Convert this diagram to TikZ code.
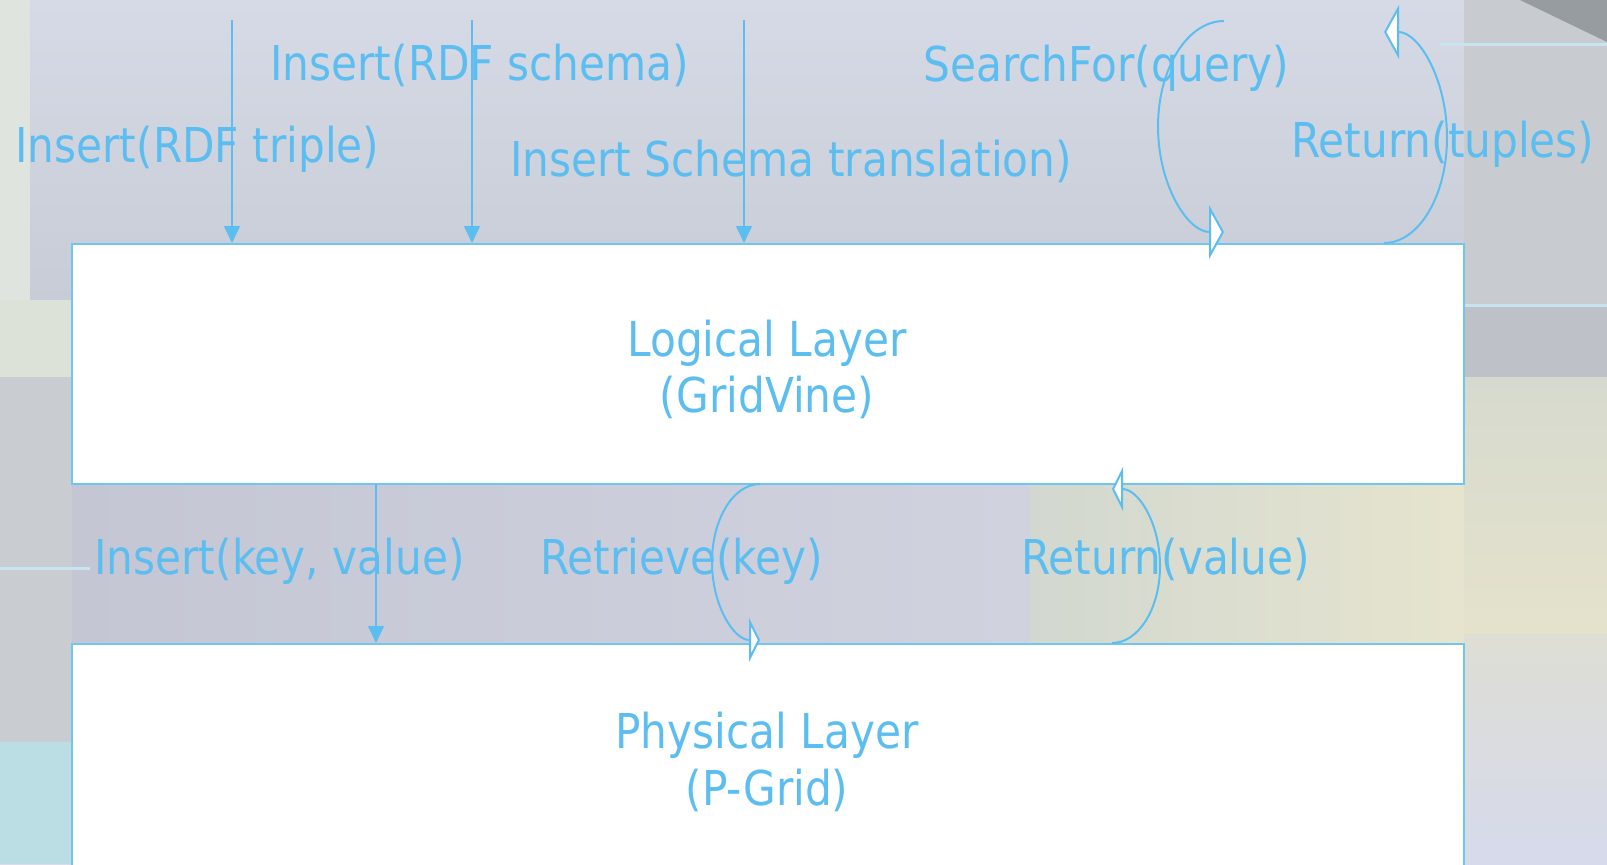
\documentclass[tikz,border=0pt]{standalone}
\usepackage{fontspec}
\setmainfont{DejaVu Sans}[FakeStretch=0.88]
\usetikzlibrary{arrows.meta}
\definecolor{lblue}{RGB}{92,190,240}
\definecolor{bblue}{RGB}{112,198,240}
\definecolor{bgL}{RGB}{218,220,234}
\definecolor{bgR}{RGB}{204,208,214}
\definecolor{bgTopT}{RGB}{214,218,230}
\definecolor{bgTopB}{RGB}{200,204,214}
\definecolor{bgGreen}{RGB}{223,229,222}
\definecolor{bgGreenB}{RGB}{220,226,216}
\definecolor{bgGray}{RGB}{201,205,210}
\definecolor{bgCyan}{RGB}{186,222,228}
\definecolor{bgMidL}{RGB}{196,198,212}
\definecolor{bgMidR}{RGB}{208,211,222}
\definecolor{bgMidGL}{RGB}{210,216,208}
\definecolor{bgMidGR}{RGB}{230,228,206}
\definecolor{bgRtop}{RGB}{200,204,208}
\definecolor{bgRgray}{RGB}{190,194,200}
\definecolor{bgRcreamT}{RGB}{214,218,206}
\definecolor{bgRcreamB}{RGB}{229,226,204}
\definecolor{bgRlowT}{RGB}{222,222,212}
\definecolor{bgRlowB}{RGB}{214,218,236}
\definecolor{bgCorner}{RGB}{150,156,160}
\definecolor{bgLine}{RGB}{200,228,238}
\begin{document}
\begin{tikzpicture}[x=0.5pt,y=-0.5pt,
  lbl/.style={text=lblue, font=\fontsize{24}{28}\selectfont, inner sep=0pt},
  layerbox/.style={draw=bblue, line width=1pt, fill=white, minimum width=696pt, inner sep=0pt},
  callarrow/.style={draw=lblue, line width=0.75pt, -{Triangle[length=8.5pt,width=8pt]}},
  loopbig/.style={draw=lblue, line width=1pt, -{Triangle[length=7.5pt,width=27pt,fill=white]}},
  loopsmall/.style={draw=lblue, line width=1pt, -{Triangle[length=5.5pt,width=22pt,fill=white]}},
  bgline/.style={draw=bgLine, line width=1.5pt}]
\useasboundingbox (0,0) rectangle (1607,864);
\clip (0,0) rectangle (1607,864);
% ---- background ----
\shade[left color=bgL, right color=bgR] (0,0) rectangle (1607,864);
\shade[top color=bgTopT, bottom color=bgTopB] (30,0) rectangle (1464,300);
\fill[bgGreen] (0,0) rectangle (30,377);
\fill[bgGreenB] (0,300) rectangle (72,377);
\fill[bgGray] (0,377) rectangle (72,742);
\fill[bgCyan] (0,742) rectangle (72,864);
\shade[left color=bgMidL, right color=bgMidR] (72,484) rectangle (1030,644);
\shade[left color=bgMidGL, right color=bgMidGR] (1030,484) rectangle (1464,644);
\fill[bgRtop] (1464,0) rectangle (1607,305);
\fill[bgRgray] (1464,305) rectangle (1607,377);
\shade[top color=bgRcreamT, bottom color=bgRcreamB] (1464,377) rectangle (1607,634);
\shade[top color=bgRlowT, bottom color=bgRlowB] (1464,634) rectangle (1607,864);
\fill[bgCorner] (1520,0) -- (1607,0) -- (1607,42) -- cycle;
\draw[bgline] (1440,44) -- (1607,44);
\draw[bgline] (1464,305) -- (1607,305);
\draw[bgline] (0,568) -- (90,568);
% ---- layers ----
\node[layerbox, minimum height=120pt] (logical) at (768,364) {};
\node[layerbox, minimum height=140pt] (physical) at (768,784) {};
\node[lbl, anchor=base] (logt1) at (767,356) {Logical Layer};
\node[lbl, anchor=base] (logt2) at (767,412) {(GridVine)};
\node[lbl, anchor=base] (phyt1) at (767,748) {Physical Layer};
\node[lbl, anchor=base] (phyt2) at (767,805) {(P-Grid)};
% ---- labels ----
\node[lbl, anchor=base west] (lschema) at (270,80) {Insert(RDF schema)};
\node[lbl, anchor=base west] (ltriple) at (15,162) {Insert(RDF triple)};
\node[lbl, anchor=base west] (ltrans) at (510,176) {Insert Schema translation)};
\node[lbl, anchor=base west] (lsearch) at (923,81) {SearchFor(query)};
\node[lbl, anchor=base west] (ltuples) at (1291,157) {Return(tuples)};
\node[lbl, anchor=base west] (lkv) at (94,574) {Insert(key, value)};
\node[lbl, anchor=base west] (lretr) at (540,574) {Retrieve(key)};
\node[lbl, anchor=base west] (lrval) at (1021,574) {Return(value)};
% ---- straight calls ----
\coordinate (s1) at (232,20);
\coordinate (s2) at (472,20);
\coordinate (s3) at (744,20);
\coordinate (s4) at (376,484);
\draw[callarrow] (s1) -- (s1 |- logical.north);
\draw[callarrow] (s2) -- (s2 |- logical.north);
\draw[callarrow] (s3) -- (s3 |- logical.north);
\draw[callarrow] (s4) -- (s4 |- physical.north);
% ---- loops ----
\coordinate (q1) at (1224,21);
\coordinate (t1) at (1384,243);
\coordinate (r1) at (760,484);
\coordinate (v1) at (1112,643);
\draw[loopbig] (q1) arc[start angle=270, end angle=90, x radius=66, y radius=105.5];
\draw[loopbig] (t1) arc[start angle=90, end angle=-90, x radius=63, y radius=105.5];
\draw[loopsmall] (r1) arc[start angle=270, end angle=90, x radius=48, y radius=78];
\draw[loopsmall] (v1) arc[start angle=90, end angle=-90, x radius=48, y radius=77];
\end{tikzpicture}
\end{document}
